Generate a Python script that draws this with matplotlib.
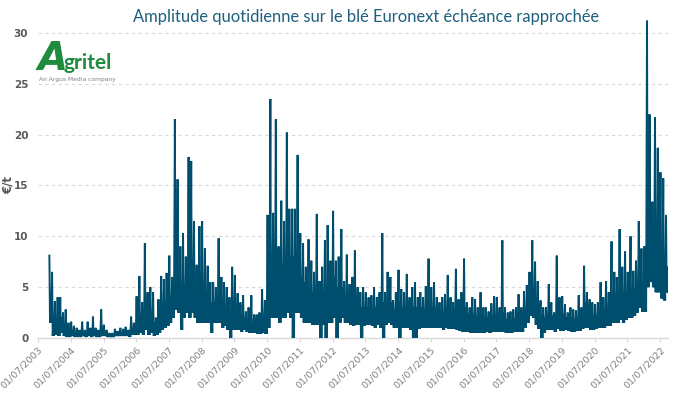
import numpy as np
import matplotlib
matplotlib.use("Agg")
import matplotlib.pyplot as plt
import datetime as dt

# ---------------- data ----------------
start_month = "2003-11"   # first month with data
# monthly maximum of the daily range (EUR/t)
monthly_high = [
    8.1, 6.5,                                                        # 2003 Nov-Dec
    3.6, 4.0, 4.0, 2.5, 2.8, 1.5, 1.6, 1.2, 1.0, 0.8, 1.6, 0.8,      # 2004
    1.6, 1.0, 2.1, 1.0, 0.8, 2.8, 1.3, 0.8, 0.5, 0.5, 0.9, 0.7,      # 2005
    1.0, 0.9, 1.1, 0.8, 2.1, 1.5, 4.1, 6.1, 3.5, 9.3, 4.5, 5.0,      # 2006
    4.5, 2.0, 3.8, 6.1, 5.8, 6.4, 8.1, 6.0, 21.5, 15.6, 9.0, 10.3,   # 2007
    8.0, 17.8, 17.4, 11.5, 7.2, 11.0, 11.5, 8.8, 7.1, 5.5, 5.5, 5.0, # 2008
    9.8, 6.0, 5.5, 5.0, 4.0, 7.0, 6.2, 4.4, 3.5, 4.2, 2.6, 3.0,      # 2009
    4.2, 2.3, 2.3, 2.5, 4.8, 3.7, 12.1, 23.5, 12.3, 21.5, 9.0, 13.5, # 2010
    11.5, 20.2, 12.7, 12.7, 12.7, 18.0, 10.3, 9.3, 7.0, 9.7, 7.6, 6.5,  # 2011
    12.2, 5.6, 7.0, 9.6, 11.1, 7.6, 12.5, 7.6, 8.0, 10.7, 5.6, 8.2,  # 2012
    5.3, 6.0, 8.6, 5.0, 4.5, 5.0, 4.5, 4.0, 4.2, 5.0, 4.0, 4.5,      # 2013
    10.3, 4.5, 6.5, 6.0, 3.7, 4.5, 6.7, 4.8, 4.5, 6.3, 4.0, 5.0,     # 2014
    5.5, 4.0, 4.5, 4.0, 5.1, 7.8, 5.0, 5.5, 4.0, 3.5, 4.0, 4.3,      # 2015
    6.2, 4.0, 3.5, 6.8, 3.8, 4.5, 7.8, 3.5, 3.0, 4.0, 3.8, 3.0,      # 2016
    4.5, 3.0, 3.0, 2.6, 3.4, 4.1, 4.0, 3.0, 9.6, 3.0, 2.5, 2.6,      # 2017
    2.8, 3.0, 4.3, 3.0, 4.6, 5.2, 6.5, 9.6, 7.5, 5.6, 3.7, 3.0,      # 2018
    3.0, 5.3, 3.5, 2.5, 8.1, 4.0, 4.1, 3.3, 2.5, 3.0, 2.8, 2.7,      # 2019
    4.2, 3.0, 7.1, 4.5, 3.8, 3.5, 3.3, 3.5, 5.5, 4.0, 5.6, 4.5,      # 2020
    9.5, 6.5, 6.0, 10.7, 7.0, 8.5, 6.5, 10.0, 6.6, 7.6, 11.5, 8.8,   # 2021
    9.0, 31.2, 22.0, 13.4, 21.7, 18.7, 16.3, 15.7, 12.1,             # 2022 Jan-Sep
]
# typical upper edge of the dense daily band (EUR/t)
monthly_typical = [
    2.0, 1.5,                                                        # 2003 Nov-Dec
    1.5, 2.0, 2.0, 1.0, 1.0, 0.6, 0.6, 0.5, 0.5, 0.4, 0.5, 0.4,      # 2004
    0.5, 0.4, 0.6, 0.4, 0.4, 0.6, 0.5, 0.4, 0.3, 0.3, 0.4, 0.4,      # 2005
    0.5, 0.5, 0.5, 0.5, 0.8, 0.8, 1.5, 2.0, 1.5, 3.0, 2.0, 2.0,      # 2006
    1.5, 1.0, 1.5, 2.5, 3.0, 3.5, 4.0, 4.0, 6.0, 6.0, 5.0, 5.0,      # 2007
    5.0, 6.0, 6.0, 5.0, 4.0, 5.0, 5.0, 4.5, 4.0, 3.5, 3.5, 3.5,      # 2008
    4.0, 3.5, 3.0, 3.0, 2.5, 3.0, 2.5, 2.5, 2.0, 2.0, 1.5, 1.5,      # 2009
    1.5, 1.5, 1.3, 1.3, 2.0, 2.0, 5.0, 7.0, 6.0, 7.0, 6.0, 7.0,      # 2010
    7.0, 8.0, 8.0, 8.0, 8.0, 8.0, 6.0, 5.5, 5.0, 5.0, 4.5, 4.0,      # 2011
    5.0, 4.0, 4.5, 5.0, 5.5, 5.0, 6.0, 5.0, 5.0, 5.0, 4.0, 4.5,      # 2012
    3.5, 3.5, 4.0, 3.5, 3.0, 3.0, 3.0, 2.8, 2.8, 3.0, 2.8, 2.8,      # 2013
    3.5, 3.0, 3.5, 3.5, 2.8, 3.0, 3.5, 3.0, 3.0, 3.5, 3.0, 3.0,      # 2014
    3.0, 2.8, 3.0, 2.8, 3.0, 3.5, 3.0, 3.0, 2.8, 2.5, 2.5, 2.8,      # 2015
    3.0, 2.5, 2.3, 3.0, 2.3, 2.5, 3.0, 2.3, 2.0, 2.3, 2.2, 2.0,      # 2016
    2.3, 2.0, 2.0, 1.8, 2.0, 2.2, 2.2, 2.0, 2.5, 1.8, 1.7, 1.7,      # 2017
    1.8, 2.0, 2.3, 2.0, 2.8, 3.5, 4.5, 5.0, 4.0, 3.0, 2.3, 2.0,      # 2018
    2.0, 2.5, 2.2, 1.8, 3.0, 2.3, 2.3, 2.0, 1.8, 2.0, 1.8, 1.8,      # 2019
    2.3, 2.0, 3.5, 2.8, 2.3, 2.2, 2.2, 2.3, 3.0, 2.5, 3.0, 3.0,      # 2020
    4.0, 3.5, 3.5, 4.5, 4.0, 4.5, 4.0, 5.0, 4.5, 5.0, 6.0, 5.5,      # 2021
    6.0, 12.0, 11.0, 9.0, 10.0, 9.0, 8.5, 8.0, 7.0,                  # 2022 Jan-Sep
]
# monthly minimum of the daily range (EUR/t)
monthly_low = [
    1.5, 0.2,                                                        # 2003 Nov-Dec
    0.3, 0.2, 0.5, 0.2, 0.1, 0.1, 0.2, 0.1, 0.1, 0.1, 0.2, 0.1,      # 2004
    0.2, 0.1, 0.2, 0.1, 0.1, 0.2, 0.2, 0.1, 0.1, 0.1, 0.2, 0.2,      # 2005
    0.2, 0.2, 0.2, 0.1, 0.3, 0.3, 0.3, 0.5, 0.3, 0.8, 0.3, 0.5,      # 2006
    0.2, 0.3, 0.5, 0.8, 1.0, 1.2, 1.5, 2.0, 2.8, 2.5, 0.8, 2.0,      # 2007
    2.5, 2.0, 2.5, 2.0, 1.5, 1.5, 1.5, 1.5, 1.5, 0.5, 1.5, 1.5,      # 2008
    1.5, 1.0, 1.2, 0.8, 0.0, 0.8, 0.8, 0.8, 0.6, 0.8, 0.6, 0.5,      # 2009
    0.5, 0.5, 0.4, 0.4, 0.5, 0.4, 1.0, 2.0, 2.0, 2.0, 1.5, 2.0,      # 2010
    2.0, 2.5, 2.0, 0.0, 2.5, 2.5, 2.0, 1.5, 1.5, 1.5, 1.3, 1.3,      # 2011
    1.3, 0.0, 1.3, 0.0, 1.5, 1.5, 2.0, 0.0, 1.5, 2.0, 1.5, 1.5,      # 2012
    1.3, 1.2, 1.3, 1.3, 0.0, 1.2, 1.3, 1.3, 1.2, 1.0, 1.3, 1.0,      # 2013
    0.0, 1.3, 1.5, 1.3, 1.0, 1.0, 0.0, 1.0, 1.0, 1.0, 0.8, 0.0,      # 2014
    0.0, 0.9, 1.0, 1.0, 1.0, 1.0, 1.0, 1.0, 1.0, 1.0, 0.8, 1.0,      # 2015
    0.9, 0.9, 0.9, 0.8, 0.7, 0.6, 0.6, 0.6, 0.5, 0.5, 0.5, 0.5,      # 2016
    0.5, 0.5, 0.6, 0.5, 0.6, 0.6, 0.6, 0.6, 0.6, 0.5, 0.5, 0.5,      # 2017
    0.6, 0.6, 0.6, 0.6, 1.0, 1.5, 2.2, 2.0, 1.3, 0.9, 0.0, 0.5,      # 2018
    0.8, 0.8, 0.8, 0.6, 0.9, 0.7, 0.7, 0.8, 0.7, 0.6, 0.6, 0.7,      # 2019
    0.7, 0.9, 1.0, 1.0, 0.8, 0.8, 0.9, 1.0, 1.0, 1.0, 1.2, 1.2,      # 2020
    1.5, 1.5, 1.5, 1.8, 1.5, 1.8, 2.0, 2.0, 2.2, 2.5, 3.0, 2.6,      # 2021
    2.6, 5.0, 5.5, 5.0, 4.5, 4.5, 3.9, 3.7, 4.5,                     # 2022 Jan-Sep
]
tick_years = list(range(2003, 2023))
tick_labels = [f"01/07/{y}" for y in tick_years]
y_ticks = [0, 5, 10, 15, 20, 25, 30]
title_text = "Amplitude quotidienne sur le blé Euronext échéance rapprochée"
y_label = "€/t"

# ---------------- build the series (4 readings per month) ----------------
m0 = np.datetime64(start_month, "M")
dates, values = [], []
for i, (h, t, l) in enumerate(zip(monthly_high, monthly_typical, monthly_low)):
    d0 = (m0 + i).astype("datetime64[D]").astype(dt.date)
    for day, v in ((4, h), (11, l), (18, t), (25, l)):
        dates.append(d0 + dt.timedelta(days=day))
        values.append(v)

# ---------------- figure ----------------
W, H = 690, 396
fig = plt.figure(figsize=(W / 100, H / 100), dpi=100)
ax_left, ax_right, ax_bottom, y_top = 38, 668, 338, 17.6
ax = fig.add_axes([ax_left / W, 1 - ax_bottom / H, (ax_right - ax_left) / W,
                   (ax_bottom - y_top) / H])

line_color = "#004E6D"
ax.plot(dates, values, color=line_color, lw=1.4, solid_joinstyle="miter", zorder=3)

ax.set_ylim(0, 31.5)
ax.set_xlim(dt.date(2003, 7, 1), dt.date(2022, 9, 27))

ax.set_yticks(y_ticks)
ax.set_yticklabels([str(v) for v in y_ticks], fontsize=7.5, fontweight="bold",
                   color="#595959")
ax.tick_params(axis="y", length=0, pad=7)

xt = [dt.date(y, 7, 1) for y in tick_years]
ax.set_xticks(xt)
ax.set_xticklabels(tick_labels, rotation=45, ha="right", rotation_mode="anchor",
                   fontsize=6.8, color="#7F7F7F")
ax.tick_params(axis="x", length=3, color="#D9D9D9", pad=2)

for yv in y_ticks[1:]:
    ax.axhline(yv, color="#D9D9D9", lw=0.8, ls=(0, (3, 3)), zorder=1)

for s in ["top", "right", "left"]:
    ax.spines[s].set_visible(False)
ax.spines["bottom"].set_color("#D9D9D9")
ax.spines["bottom"].set_linewidth(1.0)

fig.text(8 / W, 1 - 185 / H, y_label, rotation=90, ha="center", va="center",
         fontsize=8.5, fontweight="bold", color="#595959")

fig.text(366 / W, 1 - 17 / H, title_text, ha="center", va="center",
         fontsize=11.9, color="#1F5F7F", family="Lato")

# logo
green = "#1E8B3E"
fig.text(38 / W, 1 - 70 / H, "A", fontsize=28, fontweight="bold", style="italic",
         color=green, va="baseline", ha="left")
fig.text(64 / W, 1 - 69 / H, "gritel", fontsize=15, fontweight="bold",
         color=green, va="baseline", ha="left", family="Lato")
fig.text(39 / W, 1 - 81 / H, "An Argus Media company", fontsize=4.3,
         color="#7F7F7F", va="baseline", ha="left")

fig.savefig("out.png", dpi=100)
